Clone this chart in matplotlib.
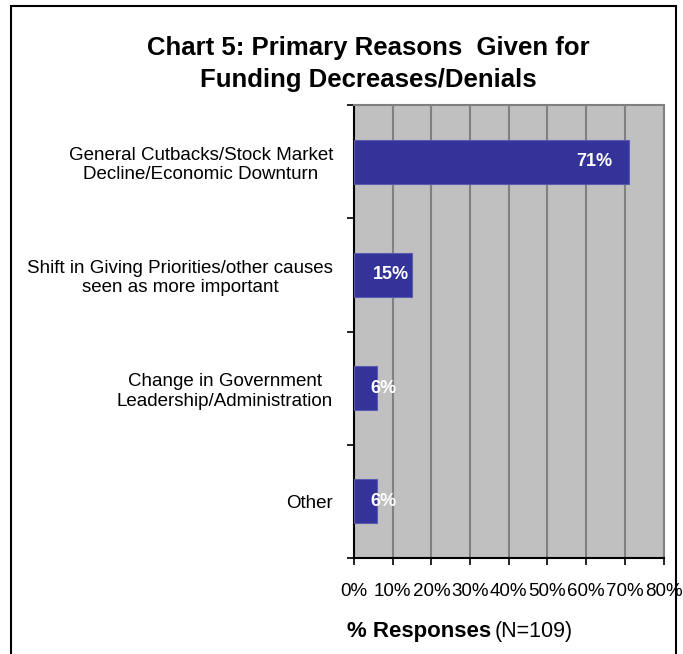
import matplotlib.pyplot as plt
from matplotlib.patches import Rectangle

# Survey results: reasons given for funding decreases/denials
reasons = [
    "General Cutbacks/Stock Market\nDecline/Economic Downturn",
    "Shift in Giving Priorities/other causes\nseen as more important",
    "Change in Government\nLeadership/Administration",
    "Other",
]
pct = [71, 15, 6, 6]
x_ticks = [0, 10, 20, 30, 40, 50, 60, 70, 80]

plt.rcParams['font.family'] = ['Liberation Sans', 'DejaVu Sans']

fig = plt.figure(figsize=(6.83, 6.54), dpi=100)
ax = fig.add_axes([354 / 683, 1 - 558 / 654, 309.5 / 683, 453 / 654])

ypos = list(range(len(reasons)))
ax.barh(ypos, pct, height=0.39, color='#333399', edgecolor='#5a5ab0',
        linewidth=0.8, zorder=3)

# value labels sit just inside the bar end, short bars get them near the base
for y, v in zip(ypos, pct):
    ax.text(max(v * 0.94, 11.1), y, f"{v}%", ha='right', va='center',
            color='white', fontsize=13, fontweight='bold', zorder=4)

ax.set_xlim(0, 80)
ax.set_ylim(len(reasons) - 0.5, -0.5)
ax.set_facecolor('#c0c0c0')

ax.set_xticks(x_ticks)
ax.set_xticklabels([f"{t}%" for t in x_ticks], fontsize=13.5)
ax.xaxis.grid(True, color='#808080', linewidth=1.5, zorder=1)
ax.set_axisbelow(True)

# category labels centred between boundary ticks
ax.set_yticks(ypos)
ax.set_yticklabels(reasons, fontsize=13.5)
for lbl in ax.get_yticklabels():
    lbl.set_multialignment('center')
ax.tick_params(axis='y', which='major', length=0, pad=15)
ax.set_yticks([i - 0.5 for i in range(len(reasons) + 1)], minor=True)
ax.tick_params(axis='y', which='minor', length=5, width=1.2, direction='out')
ax.tick_params(axis='x', length=5, width=1.2, direction='out', pad=13)

for side in ['left', 'bottom']:
    ax.spines[side].set_color('black')
    ax.spines[side].set_linewidth(1.5)
for side in ['top', 'right']:
    ax.spines[side].set_color('#808080')
    ax.spines[side].set_linewidth(1.5)

title_x = 368 / 683
fig.text(title_x, 1 - 48 / 654, "Chart 5: Primary Reasons  Given for",
         ha='center', va='center', fontsize=18.5, fontweight='bold')
fig.text(title_x, 1 - 80 / 654, "Funding Decreases/Denials",
         ha='center', va='center', fontsize=18.5, fontweight='bold')

t1 = fig.text(347 / 683, 1 - 632 / 654, "% Responses", ha='left', va='center',
              fontsize=16, fontweight='bold')
fig.canvas.draw()
bb = t1.get_window_extent()
fig.text((bb.x1 + 4) / 683, 1 - 632 / 654, "(N=109)", ha='left', va='center',
         fontsize=15.5)

# outer frame around the chart
fig.patches.append(Rectangle((11 / 683, -0.05), 665 / 683, 1.05 - 6 / 654,
                             transform=fig.transFigure, fill=False,
                             edgecolor='black', linewidth=1.5))

fig.savefig('out.png', dpi=100)
